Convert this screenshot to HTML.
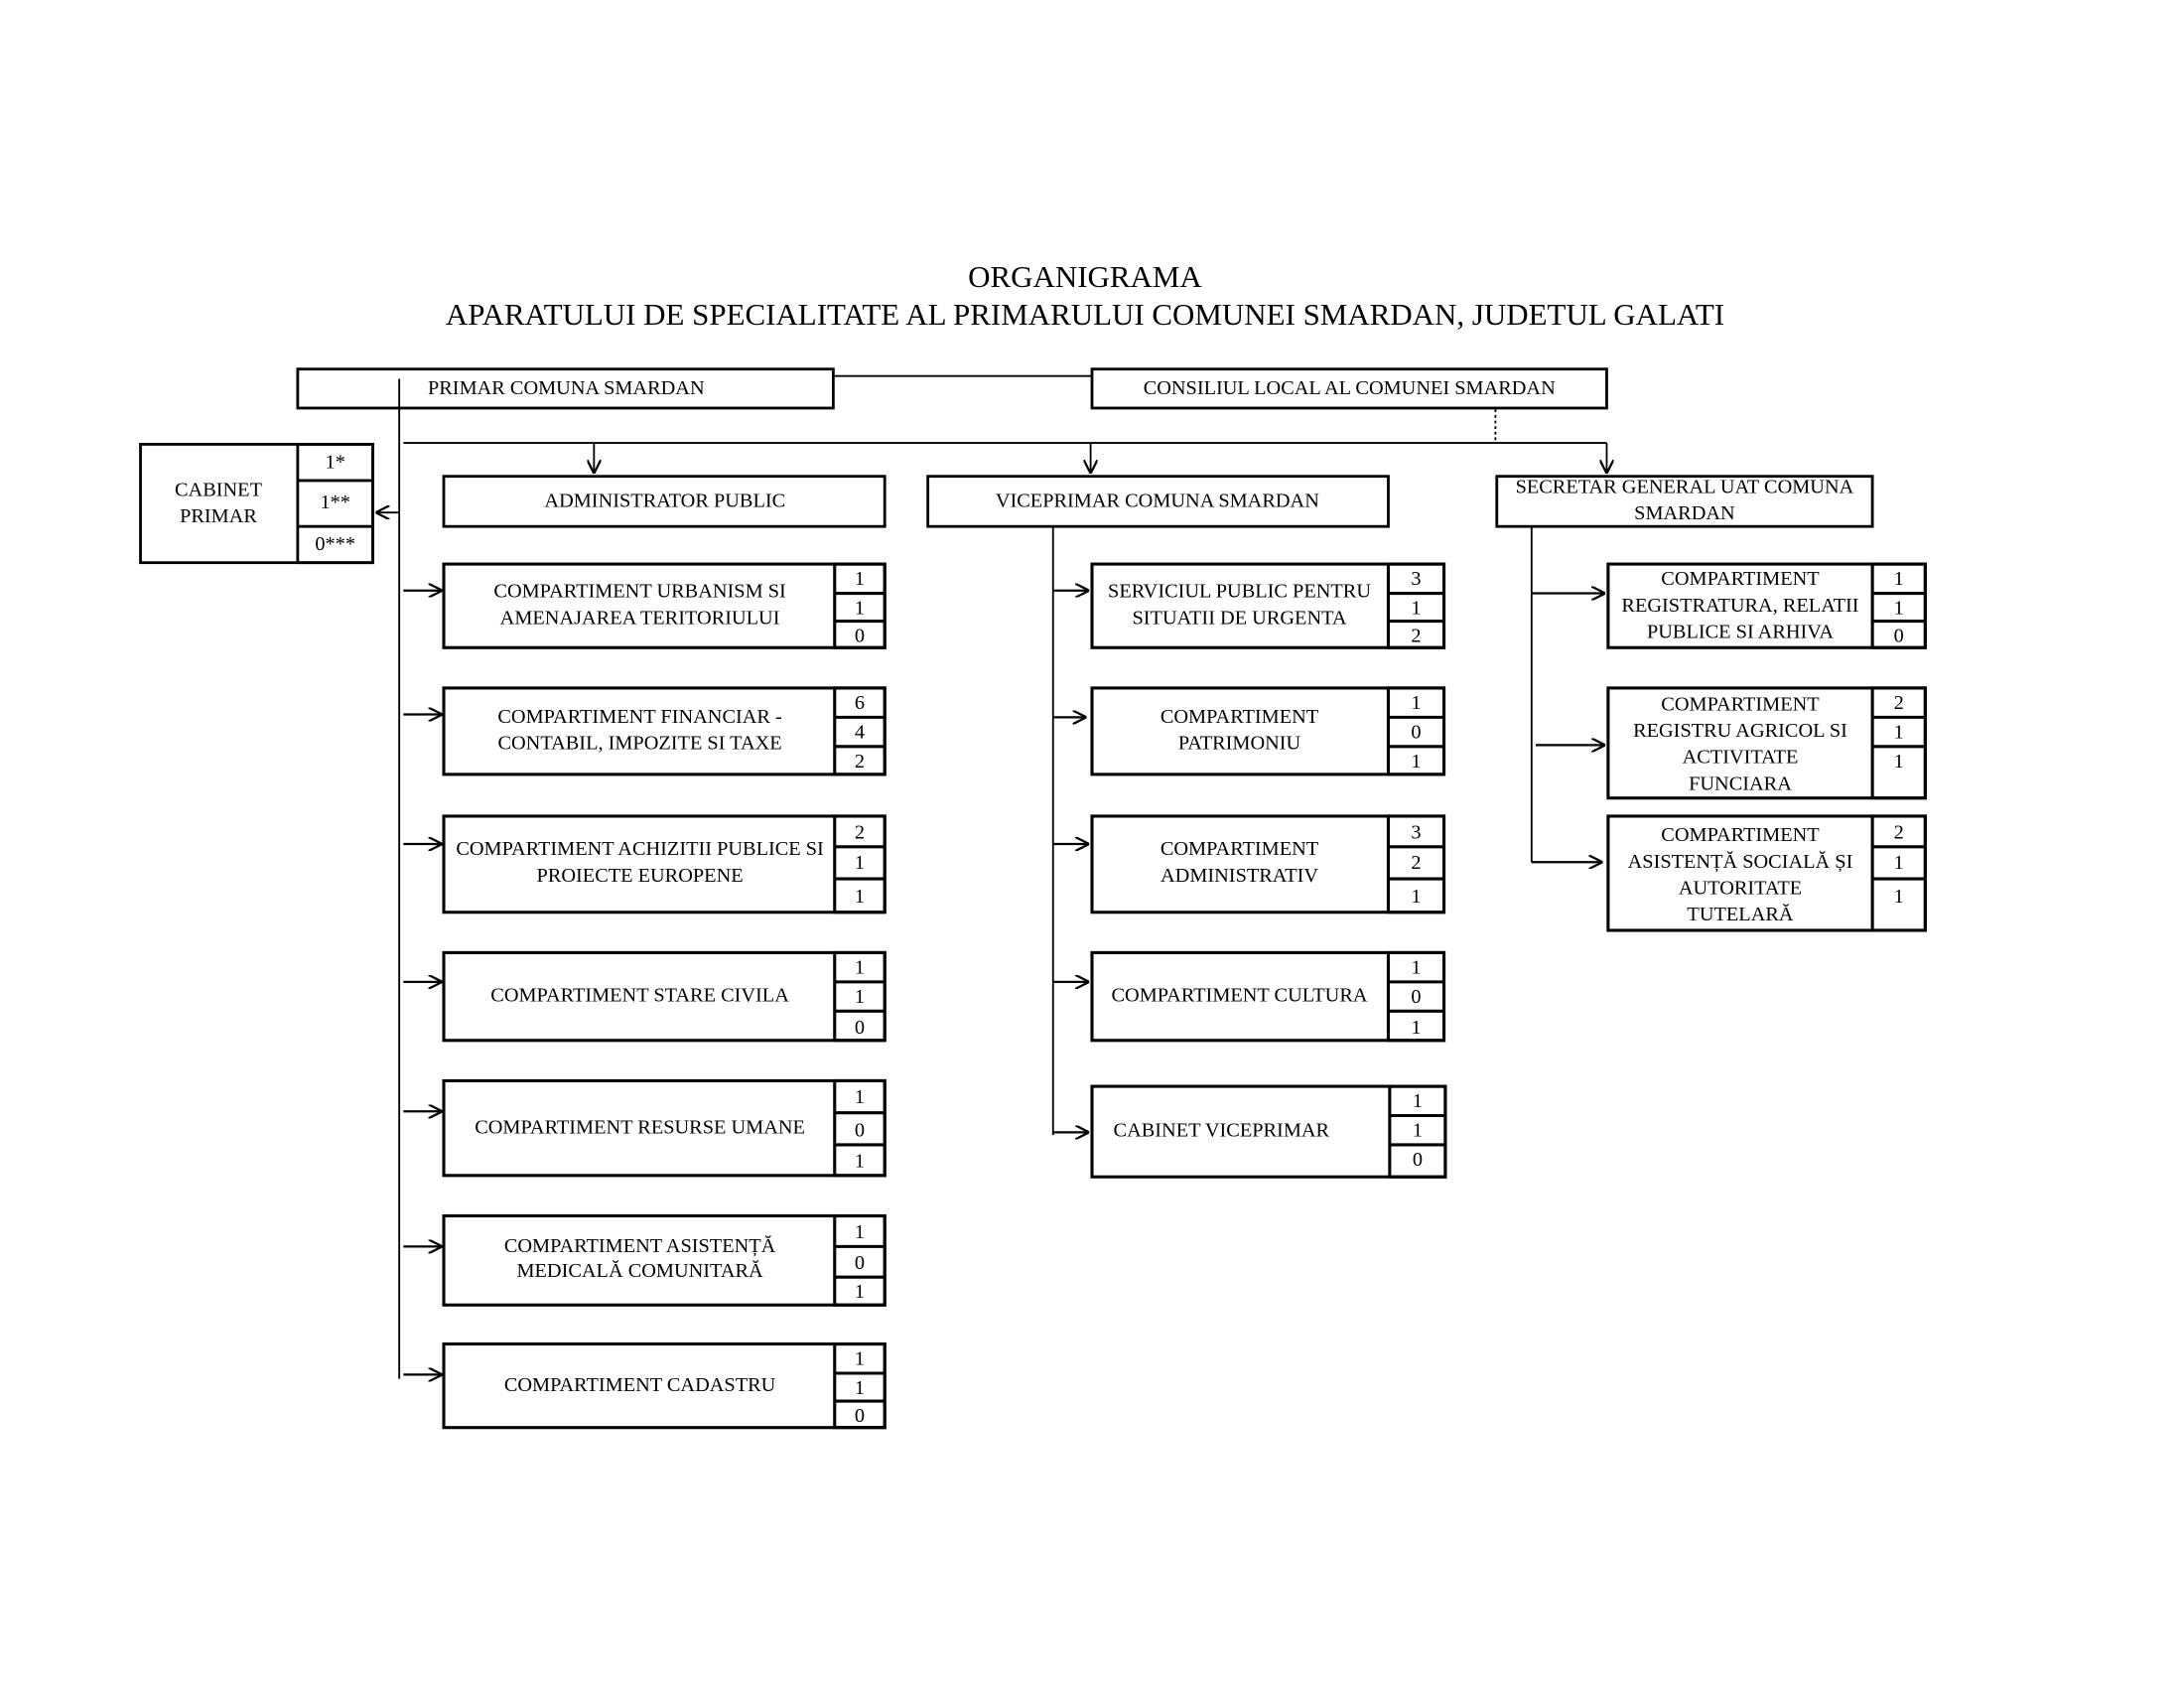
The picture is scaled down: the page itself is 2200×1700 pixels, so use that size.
<!DOCTYPE html>
<html><head><meta charset="utf-8"><style>
html,body{margin:0;padding:0;background:#fff;}
svg{display:block;}
text{font-family:"Liberation Serif",serif;font-size:14.5px;fill:#000;text-anchor:middle;}
.t{font-size:22.1px;}
</style></head><body>
<svg width="2200" height="1700" viewBox="0 0 1570 1212" preserveAspectRatio="none" xmlns="http://www.w3.org/2000/svg">
<defs>
<marker id="a" viewBox="0 0 10 10" refX="10" refY="5" markerWidth="10" markerHeight="10" markerUnits="userSpaceOnUse" orient="auto">
<path d="M0,0 L10,5 L0,10" fill="none" stroke="#000" stroke-width="1.6"/>
</marker>
</defs>
<text class="t" x="780" y="206">ORGANIGRAMA</text>
<text class="t" x="780" y="233">APARATULUI DE SPECIALITATE AL PRIMARULUI COMUNEI SMARDAN, JUDETUL GALATI</text>

<g fill="none" stroke="#000" stroke-width="2">
<rect x="214" y="265" width="385" height="28"/>
<rect x="785" y="265" width="370" height="28"/>
<rect x="101" y="319" width="167" height="85"/>
<rect x="214" y="319" width="54" height="85"/>
<line x1="214" y1="345" x2="268" y2="345"/><line x1="214" y1="378" x2="268" y2="378"/>
<rect x="319" y="342" width="317" height="36"/>
<rect x="667" y="342" width="331" height="36"/>
<rect x="1076" y="342" width="270" height="36"/>
</g>
<g fill="none" stroke="#000" stroke-width="1.3">
<line x1="599" y1="270" x2="785" y2="270"/>
<line x1="1075" y1="294" x2="1075" y2="318" stroke-dasharray="2,2"/>
<line x1="287" y1="272" x2="287" y2="990"/>
<line x1="290" y1="318" x2="1155" y2="318"/>
<line x1="427" y1="318" x2="427" y2="340" marker-end="url(#a)"/>
<line x1="784" y1="318" x2="784" y2="340" marker-end="url(#a)"/>
<line x1="1155" y1="318" x2="1155" y2="340" marker-end="url(#a)"/>
<line x1="287" y1="368" x2="270" y2="368" marker-end="url(#a)"/>
<line x1="757" y1="378" x2="757" y2="815"/>
<line x1="1101" y1="378" x2="1101" y2="619"/>
</g>
<g fill="none" stroke="#000" stroke-width="1.6">
<line x1="290" y1="424" x2="318" y2="424" marker-end="url(#a)"/>
<line x1="290" y1="513" x2="318" y2="513" marker-end="url(#a)"/>
<line x1="290" y1="606" x2="318" y2="606" marker-end="url(#a)"/>
<line x1="290" y1="705" x2="318" y2="705" marker-end="url(#a)"/>
<line x1="290" y1="798" x2="318" y2="798" marker-end="url(#a)"/>
<line x1="290" y1="895" x2="318" y2="895" marker-end="url(#a)"/>
<line x1="290" y1="987" x2="318" y2="987" marker-end="url(#a)"/>
<line x1="757" y1="424" x2="783" y2="424" marker-end="url(#a)"/>
<line x1="757" y1="515" x2="781" y2="515" marker-end="url(#a)"/>
<line x1="757" y1="606" x2="783" y2="606" marker-end="url(#a)"/>
<line x1="757" y1="705" x2="783" y2="705" marker-end="url(#a)"/>
<line x1="757" y1="813" x2="783" y2="813" marker-end="url(#a)"/>
<line x1="1101" y1="426" x2="1154" y2="426" marker-end="url(#a)"/>
<line x1="1104" y1="535" x2="1154" y2="535" marker-end="url(#a)"/>
<line x1="1101" y1="619" x2="1152" y2="619" marker-end="url(#a)"/>
</g>

<g fill="none" stroke="#000" stroke-width="2.2">
<rect x="319" y="405" width="317" height="60"/><rect x="600" y="405" width="36" height="60"/><path d="M600 426H636M600 446H636"/>
<rect x="319" y="494" width="317" height="62"/><rect x="600" y="494" width="36" height="62"/><path d="M600 515H636M600 536H636"/>
<rect x="319" y="586" width="317" height="69"/><rect x="600" y="586" width="36" height="69"/><path d="M600 608H636M600 631H636"/>
<rect x="319" y="684" width="317" height="63"/><rect x="600" y="684" width="36" height="63"/><path d="M600 705H636M600 726H636"/>
<rect x="319" y="776" width="317" height="68"/><rect x="600" y="776" width="36" height="68"/><path d="M600 799H636M600 822H636"/>
<rect x="319" y="873" width="317" height="64"/><rect x="600" y="873" width="36" height="64"/><path d="M600 895H636M600 917H636"/>
<rect x="319" y="965" width="317" height="60"/><rect x="600" y="965" width="36" height="60"/><path d="M600 986H636M600 1006H636"/>
<rect x="785" y="405" width="253" height="60"/><rect x="998" y="405" width="40" height="60"/><path d="M998 426H1038M998 446H1038"/>
<rect x="785" y="494" width="253" height="62"/><rect x="998" y="494" width="40" height="62"/><path d="M998 515H1038M998 536H1038"/>
<rect x="785" y="586" width="253" height="69"/><rect x="998" y="586" width="40" height="69"/><path d="M998 608H1038M998 631H1038"/>
<rect x="785" y="684" width="253" height="63"/><rect x="998" y="684" width="40" height="63"/><path d="M998 705H1038M998 726H1038"/>
<rect x="785" y="780" width="254" height="65"/><rect x="999" y="780" width="40" height="65"/><path d="M999 801H1039M999 822H1039"/>
<rect x="1156" y="405" width="228" height="60"/><rect x="1346" y="405" width="38" height="60"/><path d="M1346 426H1384M1346 446H1384"/>
<rect x="1156" y="494" width="228" height="79"/><rect x="1346" y="494" width="38" height="79"/><path d="M1346 515H1384M1346 536H1384"/>
<rect x="1156" y="586" width="228" height="82"/><rect x="1346" y="586" width="38" height="82"/><path d="M1346 608H1384M1346 631H1384"/>
</g>

<text x="407" y="283">PRIMAR COMUNA SMARDAN</text>
<text x="970" y="283">CONSILIUL LOCAL AL COMUNEI SMARDAN</text>
<text x="157" y="356">CABINET</text><text x="157" y="375">PRIMAR</text>
<text x="241" y="336">1*</text><text x="241" y="365">1**</text><text x="241" y="395">0***</text>
<text x="478" y="364">ADMINISTRATOR PUBLIC</text>
<text x="832" y="364">VICEPRIMAR COMUNA SMARDAN</text>
<text x="1211" y="354">SECRETAR GENERAL UAT COMUNA</text><text x="1211" y="373">SMARDAN</text>

<text x="460" y="429">COMPARTIMENT URBANISM SI</text><text x="460" y="448">AMENAJAREA TERITORIULUI</text>
<text x="618" y="420">1</text><text x="618" y="441">1</text><text x="618" y="461">0</text>
<text x="460" y="519">COMPARTIMENT FINANCIAR -</text><text x="460" y="538">CONTABIL, IMPOZITE SI TAXE</text>
<text x="618" y="509">6</text><text x="618" y="530">4</text><text x="618" y="551">2</text>
<text x="460" y="614">COMPARTIMENT ACHIZITII PUBLICE SI</text><text x="460" y="633">PROIECTE EUROPENE</text>
<text x="618" y="602">2</text><text x="618" y="624">1</text><text x="618" y="648">1</text>
<text x="460" y="719">COMPARTIMENT STARE CIVILA</text>
<text x="618" y="699">1</text><text x="618" y="720">1</text><text x="618" y="742">0</text>
<text x="460" y="814">COMPARTIMENT RESURSE UMANE</text>
<text x="618" y="792">1</text><text x="618" y="816">0</text><text x="618" y="838">1</text>
<text x="460" y="899">COMPARTIMENT ASISTENȚĂ</text><text x="460" y="917">MEDICALĂ COMUNITARĂ</text>
<text x="618" y="889">1</text><text x="618" y="911">0</text><text x="618" y="932">1</text>
<text x="460" y="999">COMPARTIMENT CADASTRU</text>
<text x="618" y="980">1</text><text x="618" y="1001">1</text><text x="618" y="1021">0</text>

<text x="891" y="429">SERVICIUL PUBLIC PENTRU</text><text x="891" y="448">SITUATII DE URGENTA</text>
<text x="1018" y="420">3</text><text x="1018" y="441">1</text><text x="1018" y="461">2</text>
<text x="891" y="519">COMPARTIMENT</text><text x="891" y="538">PATRIMONIU</text>
<text x="1018" y="509">1</text><text x="1018" y="530">0</text><text x="1018" y="551">1</text>
<text x="891" y="614">COMPARTIMENT</text><text x="891" y="633">ADMINISTRATIV</text>
<text x="1018" y="602">3</text><text x="1018" y="624">2</text><text x="1018" y="648">1</text>
<text x="891" y="719">COMPARTIMENT CULTURA</text>
<text x="1018" y="699">1</text><text x="1018" y="720">0</text><text x="1018" y="742">1</text>
<text x="878" y="816">CABINET VICEPRIMAR</text>
<text x="1019" y="795">1</text><text x="1019" y="816">1</text><text x="1019" y="837">0</text>

<text x="1251" y="420">COMPARTIMENT</text><text x="1251" y="439">REGISTRATURA, RELATII</text><text x="1251" y="458">PUBLICE SI ARHIVA</text>
<text x="1365" y="420">1</text><text x="1365" y="441">1</text><text x="1365" y="461">0</text>
<text x="1251" y="510">COMPARTIMENT</text><text x="1251" y="529">REGISTRU AGRICOL SI</text><text x="1251" y="548">ACTIVITATE</text><text x="1251" y="567">FUNCIARA</text>
<text x="1365" y="509">2</text><text x="1365" y="530">1</text><text x="1365" y="551">1</text>
<text x="1251" y="604">COMPARTIMENT</text><text x="1251" y="623">ASISTENȚĂ SOCIALĂ ȘI</text><text x="1251" y="642">AUTORITATE</text><text x="1251" y="661">TUTELARĂ</text>
<text x="1365" y="602">2</text><text x="1365" y="624">1</text><text x="1365" y="648">1</text>
</svg>
</body></html>
